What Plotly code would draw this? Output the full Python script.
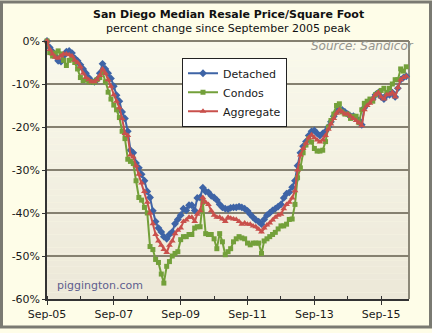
import pandas as pd
import plotly.graph_objects as go

# Monthly series, Sep 2005 .. Jun 2016, percent change since the Sep 2005 peak
months = pd.date_range("2005-09-01", periods=130, freq="MS")

detached = [
    0, -1.5, -2.5, -3.5, -4.6, -4.8, -3.5, -2.5, -2.3, -2.8,
    -4.0, -4.6, -5.5, -6.5, -7.5, -8.5, -9.3, -9.5, -9.0, -7.5,
    -5.3, -6.5, -7.5, -8.7, -10.5, -12.6, -14.0, -16.5, -18.0, -21.0,
    -25.4, -26.0, -28.4, -29.5, -31.0, -32.5, -35.0, -36.4, -39.5, -42.0,
    -43.5, -44.4, -45.5, -46.0, -45.0, -44.4, -42.5, -41.5, -40.5, -39.0,
    -39.4, -38.2, -38.2, -39.4, -36.5, -36.4, -34.1, -35.0, -35.2, -36.0,
    -36.4, -37.0, -38.0, -38.7, -39.0, -39.1, -38.8, -38.7, -38.7, -38.5,
    -38.7, -39.0, -39.5, -40.3, -41.0, -41.6, -42.0, -42.6, -41.5, -40.5,
    -40.0, -39.4, -39.0, -38.5, -38.0, -36.5, -35.5, -35.2, -34.0, -32.5,
    -29.0, -26.0, -24.5, -23.4, -22.0, -21.0, -20.8, -21.5, -22.0, -21.5,
    -21.0, -20.0, -18.8, -17.5, -16.5, -15.8, -16.0, -16.5, -17.0, -17.5,
    -17.5, -18.0, -18.5, -19.5, -15.5, -14.5, -14.0, -13.5, -12.5, -12.0,
    -13.0, -13.5, -12.5, -12.5, -12.0, -13.0, -11.0, -9.0, -8.5, -8.2,
]

condos = [
    0, -2.7, -3.5, -2.8, -2.3, -3.0, -4.5, -5.7, -4.5, -4.1,
    -5.0, -6.5, -8.5, -9.2, -9.0, -9.5, -9.5, -9.6, -9.0, -8.5,
    -7.3, -9.5, -11.9, -13.5, -14.9, -16.0, -17.8, -21.0, -22.7, -27.5,
    -28.0, -28.5, -32.5, -36.4, -37.0, -38.7, -40.0, -47.8, -48.5, -50.8,
    -51.5, -54.2, -56.3, -52.4, -51.3, -50.0, -49.4, -49.0, -46.2, -45.5,
    -45.5, -45.0, -45.0, -43.5, -43.2, -43.2, -37.5, -44.8, -45.0, -45.0,
    -46.0, -48.3, -44.8, -46.7, -49.7, -49.0, -48.3, -46.7, -46.0, -45.5,
    -45.8, -46.0, -47.0, -47.4, -47.0, -47.0, -47.0, -49.4, -46.5, -46.0,
    -45.5, -45.0, -44.5, -43.7, -43.0, -43.0, -42.6, -41.5, -41.4, -38.0,
    -31.8, -29.5, -26.0, -24.2, -22.7, -23.5, -25.0, -25.6, -25.6, -25.4,
    -23.4, -20.0, -18.5, -17.0, -15.0, -14.6, -16.5, -17.0, -17.0, -18.0,
    -17.5, -17.5, -19.0, -16.0, -14.5, -14.0, -13.5, -14.0, -12.5, -12.0,
    -11.5, -11.0, -12.0, -11.0, -10.0, -9.0, -9.0, -6.5, -7.0, -6.0,
]

aggregate = [
    0, -2.0, -3.0, -3.8, -4.0, -3.5, -3.0, -3.0, -3.2, -3.5,
    -4.5, -5.0, -6.0, -7.5, -8.5, -9.0, -9.5, -9.5, -9.0, -8.0,
    -6.5, -7.5, -9.0, -10.5, -12.5, -14.0, -15.5, -18.0, -21.5, -22.0,
    -26.5, -27.0, -29.0, -31.0, -33.0, -35.0, -37.5, -40.0, -42.5, -45.0,
    -46.5, -47.5, -48.5, -49.2, -47.5, -46.5, -44.8, -44.0, -43.5, -42.0,
    -41.6, -41.0, -41.0, -42.0, -40.3, -39.5, -36.4, -37.5, -38.0, -39.5,
    -40.5, -41.0, -41.0, -41.4, -42.0, -41.0, -41.2, -41.4, -41.5, -42.0,
    -42.6, -42.3, -42.6, -42.6, -43.0, -43.2, -43.8, -44.4, -43.5, -42.8,
    -42.3, -41.6, -41.0, -40.5, -40.3, -39.0, -38.0, -37.5, -36.5, -34.8,
    -30.0, -26.5, -25.0, -23.8, -22.5, -21.8, -22.5, -23.0, -23.5, -23.0,
    -22.0, -20.5, -19.3, -18.0, -16.8, -16.0, -16.5, -17.0, -17.0, -17.5,
    -18.0, -18.5, -19.0, -19.7, -16.0, -15.0, -14.5, -13.5, -12.5, -12.0,
    -13.0, -13.5, -12.5, -12.4, -12.0, -13.0, -10.8, -9.0, -8.5, -8.2,
]

tick_dates = pd.date_range("2005-09-01", "2015-09-01", freq="24MS")
tick_labels = [d.strftime("%b-%y") for d in tick_dates]
y_ticks = [0, -10, -20, -30, -40, -50, -60]
y_labels = ["0%", "-10%", "-20%", "-30%", "-40%", "-50%", "-60%"]

FONT = "DejaVu Sans, Verdana, sans-serif"
W, H = 432, 333
ML, MR, MT, MB = 47, 23, 41, 30
PW, PH = W - ML - MR, H - MT - MB


def px_x(px):
    return (px - ML) / PW


def px_y(py):
    return (H - MB - py) / PH


fig = go.Figure()
series = [
    ("Detached", detached, "#3E64A6", "diamond", 6),
    ("Condos", condos, "#73A03A", "square", 5),
    ("Aggregate", aggregate, "#C9504C", "triangle-up", 6),
]
for name, vals, color, symbol, size in series:
    fig.add_trace(go.Scatter(
        x=months, y=vals, name=name, mode="lines+markers",
        line=dict(color=color, width=2),
        marker=dict(symbol=symbol, size=size, color=color, line=dict(width=0)),
        cliponaxis=False,
    ))

# Plot-area shading: pale at the top, warmer beige toward the bottom
shapes = []
n_bands = 40
top_rgb = (250, 249, 236)
bot_rgb = (236, 232, 216)
for i in range(n_bands):
    t = (i + 0.5) / n_bands
    r, g, b = [round(bot_rgb[k] + (top_rgb[k] - bot_rgb[k]) * t) for k in range(3)]
    shapes.append(dict(
        type="rect", xref="x domain", yref="y domain",
        x0=0, x1=1, y0=i / n_bands, y1=(i + 1) / n_bands,
        fillcolor=f"rgb({r},{g},{b})", line=dict(width=0), layer="below",
    ))
# right edge of the plot area
shapes.append(dict(type="line", xref="x domain", yref="y domain",
                   x0=1, x1=1, y0=0, y1=1,
                   line=dict(color="#8C8878", width=2), layer="below"))
# outer frame
shapes.append(dict(type="rect", xref="paper", yref="paper",
                   x0=px_x(1.5), x1=px_x(W - 1.5), y0=px_y(H - 1.5), y1=px_y(1.5),
                   line=dict(color="#7A7A72", width=3), layer="above"))

annotations = [
    dict(text="<b>San Diego Median Resale Price/Square Foot</b>",
         xref="paper", yref="paper", x=0.5, y=px_y(14), showarrow=False,
         font=dict(family=FONT, size=11, color="#111111"), yanchor="middle"),
    dict(text="percent change since September 2005 peak",
         xref="paper", yref="paper", x=0.5, y=px_y(28), showarrow=False,
         font=dict(family=FONT, size=11, color="#111111"), yanchor="middle"),
    dict(text="<i>Source: Sandicor</i>",
         xref="paper", yref="paper", x=px_x(416), y=px_y(46), showarrow=False,
         xanchor="right", yanchor="middle",
         font=dict(family=FONT, size=12, color="#94948C")),
    dict(text="piggington.com",
         xref="paper", yref="paper", x=px_x(55), y=px_y(289), showarrow=False,
         xanchor="left", yanchor="middle",
         font=dict(family=FONT, size=11, color="#5E5E8E")),
]

fig.update_layout(
    width=W, height=H,
    margin=dict(l=ML, r=MR, t=MT, b=MB, pad=0),
    paper_bgcolor="#FEFDE8",
    plot_bgcolor="rgba(0,0,0,0)",
    font=dict(family=FONT, size=11, color="#1A1A1A"),
    showlegend=True,
    legend=dict(
        x=px_x(182), y=px_y(58), xanchor="left", yanchor="top",
        bgcolor="#FFFFFF", bordercolor="#222222", borderwidth=1,
        font=dict(family=FONT, size=11, color="#1A1A1A"),
        itemwidth=30, tracegroupgap=0,
    ),
    shapes=shapes,
    annotations=annotations,
)

fig.update_xaxes(
    type="date",
    range=["2005-09-01", "2016-07-01"],
    tickmode="array", tickvals=tick_dates, ticktext=tick_labels,
    ticks="outside", ticklen=4, tickcolor="#333333", tickwidth=1,
    minor=dict(tickmode="linear", tick0="2005-09-01", dtick="M12",
               ticks="inside", ticklen=3, tickcolor="#333333", showgrid=False),
    showgrid=False, showline=True, linecolor="#333333", linewidth=1.5,
    zeroline=False,
    tickfont=dict(family=FONT, size=11, color="#1A1A1A"),
)
fig.update_yaxes(
    range=[-60, 0],
    tickmode="array", tickvals=y_ticks, ticktext=y_labels,
    ticks="outside", ticklen=3, tickcolor="#333333",
    showgrid=True, gridcolor="#858070", gridwidth=2,
    zeroline=True, zerolinecolor="#858070", zerolinewidth=2,
    showline=True, linecolor="#333333", linewidth=1.5,
    tickfont=dict(family=FONT, size=11, color="#1A1A1A"),
)

fig.write_html("out.html")
